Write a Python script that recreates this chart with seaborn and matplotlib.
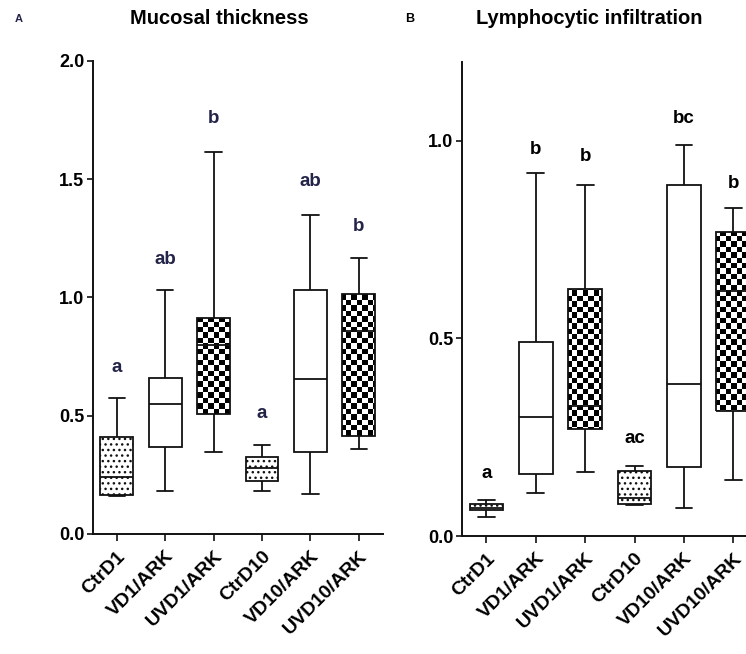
import numpy as np
import pandas as pd
import matplotlib
matplotlib.use("Agg")
import matplotlib.pyplot as plt
import seaborn as sns

sns.set_style("ticks")
plt.rcParams['font.family'] = ['Liberation Sans', 'DejaVu Sans']
plt.rcParams['font.weight'] = 'bold'
plt.rcParams['text.color'] = 'black'
plt.rcParams['xtick.color'] = 'black'
plt.rcParams['ytick.color'] = 'black'
plt.rcParams['xtick.labelcolor'] = 'black'
plt.rcParams['ytick.labelcolor'] = 'black'
plt.rcParams['hatch.linewidth'] = 1.0
plt.rcParams['hatch.color'] = '#555555'

groups = ["CtrD1", "VD1/ARK", "UVD1/ARK", "CtrD10", "VD10/ARK", "UVD10/ARK"]
fills = ["dots", "open", "checker", "dots", "open", "checker"]

# five-number summaries: min, Q1, median, Q3, max
muc_min = [0.159, 0.183, 0.345, 0.181, 0.169, 0.359]
muc_q1  = [0.165, 0.366, 0.509, 0.225, 0.345, 0.414]
muc_med = [0.239, 0.549, 0.800, 0.277, 0.653, 0.857]
muc_q3  = [0.408, 0.658, 0.911, 0.326, 1.030, 1.016]
muc_max = [0.575, 1.030, 1.616, 0.375, 1.350, 1.166]
muc_letters = ["a", "ab", "b", "a", "ab", "b"]
muc_letter_y = [0.705, 1.16, 1.755, 0.51, 1.49, 1.30]

lym_min = [0.049, 0.110, 0.162, 0.079, 0.072, 0.142]
lym_q1  = [0.065, 0.158, 0.271, 0.081, 0.175, 0.316]
lym_med = [0.072, 0.300, 0.330, 0.095, 0.385, 0.621]
lym_q3  = [0.081, 0.492, 0.624, 0.164, 0.888, 0.768]
lym_max = [0.091, 0.918, 0.887, 0.177, 0.989, 0.829]
lym_letters = ["a", "b", "b", "ac", "bc", "b"]
lym_letter_y = [0.159, 0.977, 0.96, 0.246, 1.056, 0.892]


def make_df(mn, q1, md, q3, mx):
    rows = []
    for g, a, b, c, d, e in zip(groups, mn, q1, md, q3, mx):
        for v in (a, b, c, d, e):
            rows.append((g, v))
    return pd.DataFrame(rows, columns=["group", "value"])


fig = plt.figure(figsize=(7.46, 6.54), dpi=100)
axA = fig.add_axes([0.1243, 0.1835, 0.389, 0.7237])
axB = fig.add_axes([0.619, 0.1804, 0.397, 0.7252])

LINE = '#111111'


def draw(ax, df, ylim, yticks, letters, letter_y, letter_color):
    sns.boxplot(data=df, x="group", y="value", order=groups, whis=(0, 100),
                width=0.68, color="white", linecolor=LINE, linewidth=1.3,
                ax=ax, showfliers=False)
    ax.set_xlim(-0.5, 5.5)
    ax.set_ylim(*ylim)
    boxes = [p for p in ax.patches]
    ncols = int(ax.bbox.width / 5.4)
    nrows = int(ax.bbox.height / 5.4)
    checker = np.add.outer(np.arange(nrows), np.arange(ncols)) % 2
    for patch, f in zip(boxes, fills):
        if f == "dots":
            patch.set_hatch("...")
        elif f == "checker":
            patch.set_facecolor("none")
            im = ax.imshow(checker, cmap="gray", vmin=0, vmax=1,
                           extent=(-0.5, 5.5, ylim[0], ylim[1]),
                           aspect="auto", interpolation="nearest",
                           zorder=patch.get_zorder() - 0.05, origin="lower")
            im.set_clip_path(patch)
    ax.set_xlim(-0.5, 5.5)
    ax.set_ylim(*ylim)
    ax.set_yticks(yticks)
    ax.set_yticklabels([f"{t:.1f}" for t in yticks], fontsize=13, fontweight="bold")
    ax.set_xticks(range(len(groups)))
    ax.set_xticklabels(groups, rotation=45, ha="right", va="top",
                       rotation_mode="anchor", fontsize=14, fontweight="bold")
    ax.set_xlabel("")
    ax.set_ylabel("")
    ax.tick_params(axis="both", length=4, width=1.2, color=LINE, pad=2)
    ax.tick_params(axis="x", length=5, pad=5)
    for s in ("top", "right"):
        ax.spines[s].set_visible(False)
    for s in ("left", "bottom"):
        ax.spines[s].set_linewidth(1.4)
        ax.spines[s].set_color(LINE)
    for i, (t, y) in enumerate(zip(letters, letter_y)):
        ax.text(i, y, t, ha="center", va="center", fontsize=13.5,
                fontweight="bold", color=letter_color)


draw(axA, make_df(muc_min, muc_q1, muc_med, muc_q3, muc_max), (0, 2.0),
     [0.0, 0.5, 1.0, 1.5, 2.0], muc_letters, muc_letter_y, "#24244a")
draw(axB, make_df(lym_min, lym_q1, lym_med, lym_q3, lym_max), (0, 1.2),
     [0.0, 0.5, 1.0], lym_letters, lym_letter_y, "#000000")

fig.text(219 / 746, 1 - 19 / 654, "Mucosal thickness", ha="center", va="center",
         fontsize=14.5, fontweight="bold", color="black")
fig.text(589 / 746, 1 - 19 / 654, "Lymphocytic infiltration", ha="center", va="center",
         fontsize=14.5, fontweight="bold", color="black")
fig.text(19 / 746, 1 - 19 / 654, "A", ha="center", va="center", fontsize=8,
         fontweight="bold", color="#24244a")
fig.text(410 / 746, 1 - 19 / 654, "B", ha="center", va="center", fontsize=9,
         fontweight="bold", color="black")

fig.savefig("out.png", dpi=100)
